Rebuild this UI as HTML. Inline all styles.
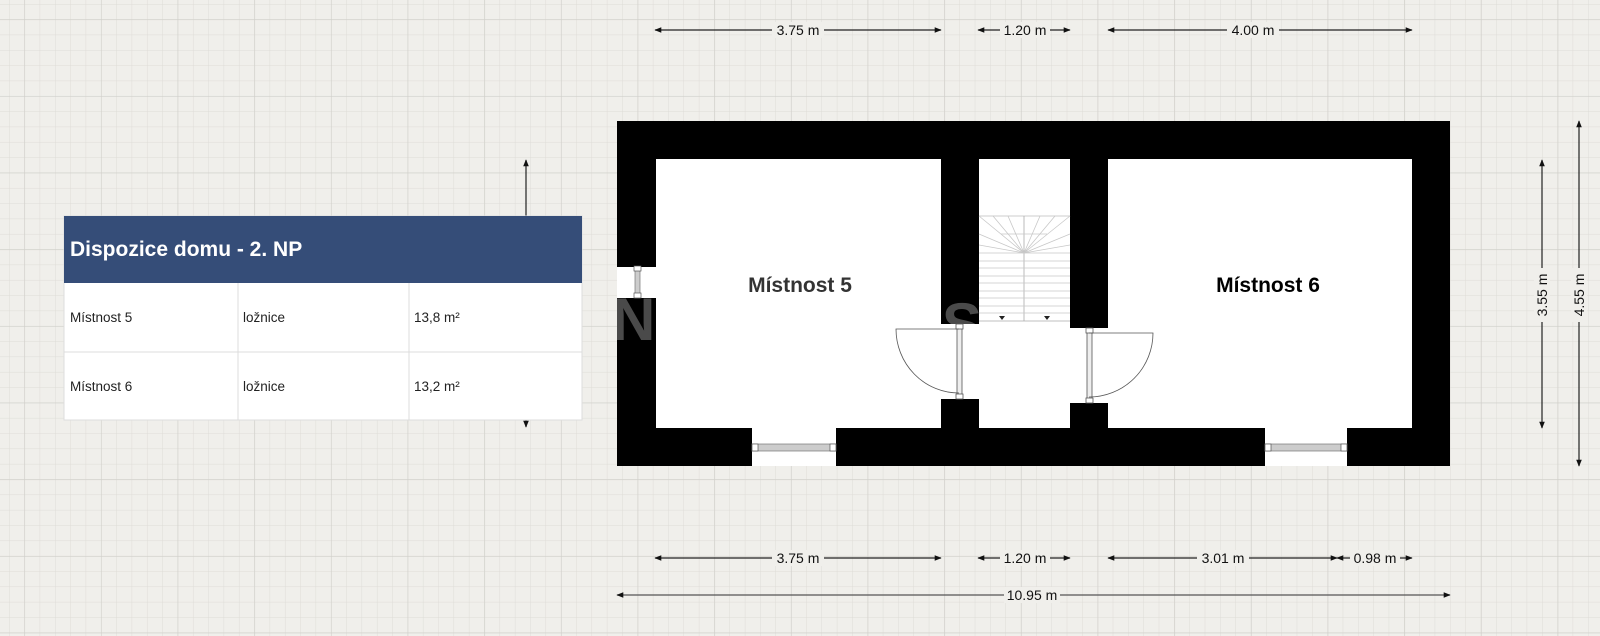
<!DOCTYPE html>
<html><head><meta charset="utf-8"><style>
html,body{margin:0;padding:0;width:1600px;height:636px;overflow:hidden;background:#f0efeb;}
svg{display:block}
text{font-family:"Liberation Sans",sans-serif;}
</style></head><body>
<svg width="1600" height="636" viewBox="0 0 1600 636" xmlns="http://www.w3.org/2000/svg">
<defs>
<pattern id="minor" x="9" y="4" width="15.33" height="15.33" patternUnits="userSpaceOnUse">
<path d="M0 0H15.33M0 0V15.33" stroke="#dedcd7" stroke-width="1" fill="none"/>
</pattern>
<pattern id="major" x="24.3" y="19.3" width="76.67" height="76.67" patternUnits="userSpaceOnUse">
<path d="M0 0H76.67M0 0V76.67" stroke="#d0cfca" stroke-width="1.2" fill="none"/>
</pattern>
<marker id="ah" viewBox="0 0 10 10" refX="9" refY="5" markerWidth="9" markerHeight="7" orient="auto-start-reverse" markerUnits="userSpaceOnUse">
<path d="M0 1L10 5L0 9Z" fill="#111"/>
</marker>
<clipPath id="wallclip">
<rect x="617" y="121" width="39" height="345"/>
<rect x="941" y="121" width="38" height="203"/>
</clipPath>
</defs>
<rect width="1600" height="636" fill="#f0efeb"/>
<rect width="1600" height="636" fill="url(#minor)"/>
<rect width="1600" height="636" fill="url(#major)"/>

<!-- building -->
<rect x="617" y="121" width="833" height="345" fill="#000"/>
<rect x="656" y="159" width="285" height="269" fill="#fff"/>
<rect x="979" y="159" width="91" height="269" fill="#fff"/>
<rect x="1108" y="159" width="304" height="269" fill="#fff"/>
<!-- openings -->
<rect x="617" y="267" width="39" height="31" fill="#fff"/>
<rect x="941" y="324" width="38" height="75" fill="#fff"/>
<rect x="1070" y="328" width="38" height="75" fill="#fff"/>
<rect x="752" y="428" width="84" height="38" fill="#fff"/>
<rect x="1265" y="428" width="82" height="38" fill="#fff"/>

<!-- watermark partial -->
<g clip-path="url(#wallclip)" fill="#4a4a4a">
<text x="612" y="340" font-size="60" font-weight="bold">N</text>
<text x="942" y="345" font-size="60" font-weight="bold">S</text>
</g>

<!-- left window -->
<rect x="635" y="267" width="5" height="31" fill="#ccc" stroke="#777" stroke-width="0.7"/>
<rect x="634" y="266" width="7" height="5" fill="#fff" stroke="#555" stroke-width="0.7"/>
<rect x="634" y="293" width="7" height="5" fill="#fff" stroke="#555" stroke-width="0.7"/>
<!-- bottom windows -->
<g stroke-width="0.7">
<rect x="752" y="444" width="84" height="7" fill="#ccc" stroke="#777"/>
<rect x="752" y="444" width="6" height="7" fill="#fff" stroke="#555"/>
<rect x="830" y="444" width="6" height="7" fill="#fff" stroke="#555"/>
<rect x="1265" y="444" width="82" height="7" fill="#ccc" stroke="#777"/>
<rect x="1265" y="444" width="6" height="7" fill="#fff" stroke="#555"/>
<rect x="1341" y="444" width="6" height="7" fill="#fff" stroke="#555"/>
</g>

<!-- stairs -->
<g stroke="#c8c8c8" stroke-width="0.8" fill="none">
<line x1="979" y1="216" x2="1070" y2="216" stroke="#bbb"/>
<line x1="1024" y1="216" x2="1024" y2="321" stroke="#aaa"/>
<line x1="979" y1="321" x2="1070" y2="321" stroke="#aaa"/>
<path d="M1024 253L979 216M1024 253L993 216M1024 253L1008 216M1024 253L1040 216M1024 253L1055 216M1024 253L1070 216M1024 253L979 234M1024 253L1070 234M1024 253L979 245M1024 253L1070 245"/>
<line x1="1001" y1="234" x2="1047" y2="234"/>
<path d="M979 253H1070M979 261H1070M979 268H1070M979 276H1070M979 283H1070M979 291H1070M979 298H1070M979 306H1070M979 313H1070"/>
</g>
<path d="M999 316h6l-3 4z M1044 316h6l-3 4z" fill="#222"/>

<!-- doors -->
<g stroke="#555" stroke-width="0.8" fill="none">
<rect x="957" y="324" width="5" height="75" fill="#eee"/>
<rect x="956" y="324" width="7" height="5" fill="#fff"/>
<rect x="956" y="394" width="7" height="5" fill="#fff"/>
<path d="M959 329H896A63 64 0 0 0 959 393"/>
<rect x="1087" y="328" width="5" height="75" fill="#eee"/>
<rect x="1086" y="328" width="7" height="5" fill="#fff"/>
<rect x="1086" y="398" width="7" height="5" fill="#fff"/>
<path d="M1089 333H1153A64 64 0 0 1 1089 397"/>
</g>

<!-- room labels -->
<text x="800" y="292" font-size="21" font-weight="bold" fill="#333" text-anchor="middle">Místnost 5</text>
<text x="1268" y="292" font-size="21" font-weight="bold" fill="#000" text-anchor="middle">Místnost 6</text>

<!-- dimension lines -->
<g stroke="#222" stroke-width="1.2" marker-start="url(#ah)" marker-end="url(#ah)">
<line x1="655" y1="30" x2="941" y2="30"/>
<line x1="978" y1="30" x2="1070" y2="30"/>
<line x1="1108" y1="30" x2="1412" y2="30"/>
<line x1="655" y1="558" x2="941" y2="558"/>
<line x1="978" y1="558" x2="1070" y2="558"/>
<line x1="1108" y1="558" x2="1337" y2="558"/>
<line x1="1337" y1="558" x2="1412" y2="558"/>
<line x1="617" y1="595" x2="1450" y2="595" stroke="#555"/>
<line x1="1542" y1="160" x2="1542" y2="428"/>
<line x1="1579" y1="121" x2="1579" y2="466"/>
<line x1="526" y1="160" x2="526" y2="427"/>
</g>
<g font-size="14" fill="#111" text-anchor="middle">
<rect x="772" y="22" width="52" height="16" fill="#f0efeb"/>
<text x="798" y="35">3.75 m</text>
<rect x="1000" y="22" width="50" height="16" fill="#f0efeb"/>
<text x="1025" y="35">1.20 m</text>
<rect x="1227" y="22" width="52" height="16" fill="#f0efeb"/>
<text x="1253" y="35">4.00 m</text>
<rect x="772" y="550" width="52" height="16" fill="#f0efeb"/>
<text x="798" y="563">3.75 m</text>
<rect x="1000" y="550" width="50" height="16" fill="#f0efeb"/>
<text x="1025" y="563">1.20 m</text>
<rect x="1197" y="550" width="52" height="16" fill="#f0efeb"/>
<text x="1223" y="563">3.01 m</text>
<rect x="1350" y="550" width="50" height="16" fill="#f0efeb"/>
<text x="1375" y="563">0.98 m</text>
<rect x="1004" y="587" width="56" height="16" fill="#f0efeb"/>
<text x="1032" y="600">10.95 m</text>
<rect x="1534" y="268" width="16" height="54" fill="#f0efeb"/>
<text x="0" y="0" transform="translate(1547,295) rotate(-90)">3.55 m</text>
<rect x="1571" y="268" width="16" height="54" fill="#f0efeb"/>
<text x="0" y="0" transform="translate(1584,295) rotate(-90)">4.55 m</text>
</g>

<!-- table -->
<rect x="64" y="216" width="518" height="204" fill="#fff" stroke="#ddd" stroke-width="1"/>
<rect x="64" y="216" width="518" height="67" fill="#354d78"/>
<text x="70" y="256" font-size="21" font-weight="bold" fill="#fff">Dispozice domu - 2. NP</text>
<g stroke="#dcdcdc" stroke-width="1">
<line x1="64" y1="352" x2="582" y2="352"/>
<line x1="238" y1="283" x2="238" y2="420"/>
<line x1="409" y1="283" x2="409" y2="420"/>
</g>
<g font-size="13.5" fill="#222">
<text x="70" y="322">Místnost 5</text>
<text x="243" y="322">ložnice</text>
<text x="414" y="322">13,8 m²</text>
<text x="70" y="391">Místnost 6</text>
<text x="243" y="391">ložnice</text>
<text x="414" y="391">13,2 m²</text>
</g>
</svg>
</body></html>
